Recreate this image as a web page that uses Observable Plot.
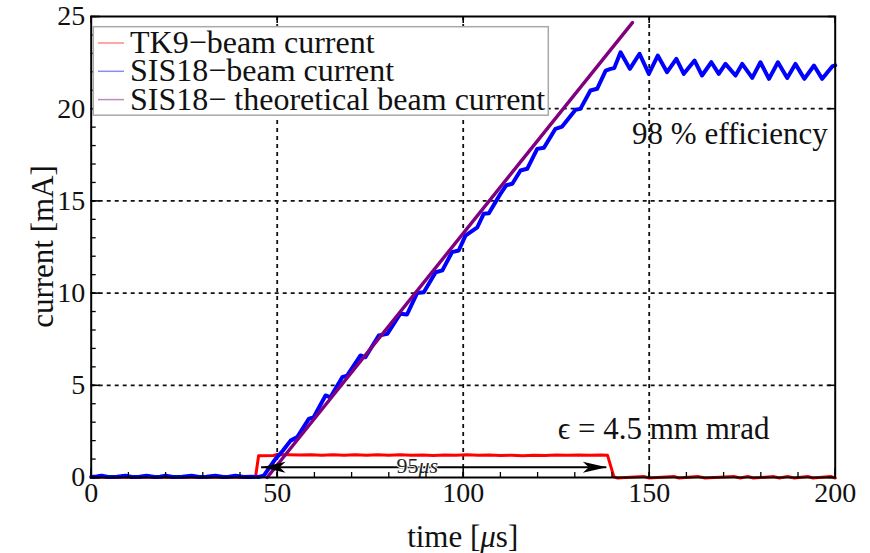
<!DOCTYPE html>
<html><head><meta charset="utf-8">
<script src="https://cdn.jsdelivr.net/npm/d3@7"></script>
<script src="https://cdn.jsdelivr.net/npm/@observablehq/plot@0.6"></script>
<style>body{margin:0;background:#fff}#chart{width:870px;height:553px}</style>
</head><body><div id="chart"></div>
<script>
// ---------- data ----------
const tk9Time = [0,10,20,30,40,44.2,45.0,49,50,53,56,59,62,65,68,71,74,77,80,83,86,89,92,95,98,101,104,107,110,113,116,119,122,125,128,131,134,137,138.8,140.5,141.5,148.5,150,156.6,158,163,165,172.7,174.5,176.5,178,183.5,185,187.2,189,192.6,194,198.8,200];
const tk9Current = [0.02,0.02,0.02,0.02,0.02,0.05,1.18,1.19,1.25,1.24,1.22,1.24,1.21,1.23,1.2,1.23,1.21,1.24,1.21,1.23,1.2,1.22,1.19,1.22,1.2,1.23,1.2,1.22,1.19,1.21,1.18,1.21,1.19,1.22,1.2,1.22,1.21,1.22,1.2,0.05,-0.03,0.06,-0.03,0.06,-0.03,0.06,-0.03,0.06,-0.03,0.06,-0.03,0.05,-0.03,0.06,-0.03,0.06,-0.03,0.06,-0.03];

const sisTime = [0,1.5,2.8,4.5,7,9.2,11,13,14.9,17,18.5,20,22,24.5,27,29,31,33.4,35.5,37,38.8,41,43,45,46.4,49.5,51.5,53.6,55.4,58.5,59.8,63.0,64.3,67.5,68.8,72.4,73.7,77.3,79.6,83.1,84.9,87.6,89.4,92.6,94.4,97.0,98.8,100.6,103.8,105.5,106.9,110.0,111.6,113.2,115.4,117.2,119.9,121.7,124.8,126.6,130.2,131.5,134.2,136.0,138.3,139.6,140.6,142.3,144.8,147.4,149.9,152.3,154.8,157.3,159.3,162.2,164.2,166.7,168.7,170.5,173.2,175.0,177.7,179.9,182.2,184.6,187.1,189.3,191.7,194.3,196.5,199.2,200];
const sisCurrent = [0.03,0.05,0.1,0.03,0.04,0.1,0.03,0.04,0.09,0.03,0.04,0.09,0.03,0.04,0.1,0.03,0.04,0.1,0.03,0.04,0.09,0.03,0.04,0.03,0.1,1.0,1.45,2.0,2.19,3.18,3.27,4.45,4.35,5.44,5.53,6.62,6.52,7.7,7.79,8.88,8.84,10.0,10.05,11.13,11.23,12.22,12.31,13.12,13.57,14.3,14.33,15.38,15.85,15.93,16.65,16.74,17.82,17.88,18.91,19.03,19.94,19.99,20.99,21.08,22.07,22.16,22.2,23.06,22.16,22.98,21.89,22.88,21.98,22.7,21.89,22.61,21.8,22.52,21.89,22.43,21.8,22.43,21.67,22.52,21.62,22.52,21.67,22.43,21.62,22.34,21.62,22.29,22.35];

const theoTime = [47.3,145.5];
const theoCurrent = [0,24.67];

const seriesNames = ["TK9\u2212beam current","SIS18\u2212beam current","SIS18\u2212 theoretical beam current"];
const seriesColors = ["#ff0000","#0000ff","#800080"];
const legendColors = ["#ff8a8a","#8a8aff","#c08ac0"];

const xTicks = [0,50,100,150,200];
const yTicks = [0,5,10,15,20,25];
const xGrid = [50,100,150];
const yGrid = [5,10,15,20];
const xMinor = d3.range(0,201,10);
const yMinor = d3.range(0,26,1);

const pulseSpan = [45.8,138.6];   // 95 µs pulse arrow
const pulseLevel = 0.55;

// ---------- build ----------
const rows = (ts, vs) => ts.map((t,i)=>({t, v: vs[i]}));
const tk9 = rows(tk9Time, tk9Current);
const sis = rows(sisTime, sisCurrent);
const theo = rows(theoTime, theoCurrent);

const W=870, H=553, mL=90.7, mR=35.3, mT=16, mB=76;
const innerW = W-mL-mR, innerH = H-mT-mB;
const font = "'Liberation Serif','Times New Roman',serif";

const leftHead = {draw(c){c.moveTo(0,0);c.lineTo(24,-5.5);c.lineTo(18,0);c.lineTo(24,5.5);c.closePath();}};
const rightHead = {draw(c){c.moveTo(0,0);c.lineTo(-24,-5.5);c.lineTo(-18,0);c.lineTo(-24,5.5);c.closePath();}};

const grid = {stroke:"#111", strokeWidth:1.8, strokeDasharray:"4,4"};
const mid = (pulseSpan[0]+pulseSpan[1])/2 - 4.2;

const plot = Plot.plot({
  width: W, height: H,
  marginLeft: mL, marginRight: mR, marginTop: mT, marginBottom: mB,
  x: {domain:[0,200]},
  y: {domain:[0,25]},
  style: {fontFamily: font, background:"white", color:"black", overflow:"visible"},
  marks: [
    Plot.ruleX(xGrid, grid),
    Plot.ruleY(yGrid, grid),
    Plot.line(tk9, {x:"t", y:"v", stroke: seriesColors[0], strokeWidth:3}),
    Plot.line(sis, {x:"t", y:"v", stroke: seriesColors[1], strokeWidth:4, strokeLinejoin:"round"}),
    Plot.line(theo, {x:"t", y:"v", stroke: seriesColors[2], strokeWidth:3.4}),
    Plot.ruleY([pulseLevel], {x1: pulseSpan[0], x2: pulseSpan[1], stroke:"black", strokeWidth:2}),
    Plot.dot([{t:pulseSpan[0], v:pulseLevel}], {x:"t", y:"v", symbol:leftHead, fill:"black", stroke:null}),
    Plot.dot([{t:pulseSpan[1], v:pulseLevel}], {x:"t", y:"v", symbol:rightHead, fill:"black", stroke:null}),
    Plot.text([{t:mid, v:0.62}], {x:"t", y:"v", text:()=>"95", textAnchor:"end", fontSize:22, fill:"#222", stroke:"white", strokeWidth:2, paintOrder:"stroke"}),
    Plot.text([{t:mid, v:0.62}], {x:"t", y:"v", text:()=>"\u03bcs", textAnchor:"start", fontStyle:"italic", fontSize:22, fill:"#222", stroke:"white", strokeWidth:2, paintOrder:"stroke"}),
    Plot.text([{t:145.4, v:18.65}], {x:"t", y:"v", text:()=>"98 % efficiency", textAnchor:"start", fontSize:31, fill:"#111"}),
    Plot.text([{t:125.4, v:2.6}], {x:"t", y:"v", text:()=>"\u03f5 = 4.5 mm mrad", textAnchor:"start", fontSize:31, fill:"#111"}),
    // inward ticks
    Plot.ruleX(xMinor, {stroke:"black", strokeWidth:1.3, insetTop: innerH-5}),
    Plot.ruleX(xTicks, {stroke:"black", strokeWidth:1.6, insetTop: innerH-9}),
    Plot.ruleX(xTicks, {stroke:"black", strokeWidth:1.6, insetBottom: innerH-7}),
    Plot.ruleY(yMinor, {stroke:"black", strokeWidth:1.3, insetRight: innerW-5}),
    Plot.ruleY(yTicks, {stroke:"black", strokeWidth:1.6, insetRight: innerW-9}),
    Plot.ruleY(yTicks, {stroke:"black", strokeWidth:1.6, insetLeft: innerW-7}),
    Plot.frame({stroke:"black", strokeWidth:2}),
    Plot.axisX(xTicks, {tickSize:0, tickPadding:5, fontSize:28, label:null, fill:"#111"}),
    Plot.axisY(yTicks, {tickSize:0, tickPadding:6, fontSize:28, label:null, fill:"#111"})
  ]
});

const svg = d3.select(plot);
// axis titles
const xt = svg.append("text").attr("x", mL + innerW/2).attr("y", 547).attr("text-anchor","middle")
  .attr("font-family", font).attr("font-size", 31).attr("fill","#111");
xt.append("tspan").text("time [");
xt.append("tspan").attr("font-style","italic").text("\u03bc");
xt.append("tspan").text("s]");
svg.append("text").attr("transform", `translate(53,${mT+innerH/2}) rotate(-90)`).attr("text-anchor","middle")
  .attr("font-family", font).attr("font-size", 31).attr("fill","#111").text("current [mA]");

// legend
const lg = svg.append("g").attr("text-anchor","start");
lg.append("rect").attr("x",93.3).attr("y",26.7).attr("width",455).attr("height",88.5)
  .attr("fill","white").attr("stroke","#a8a8a8").attr("stroke-width",1.5);
seriesNames.forEach((name,i)=>{
  const by = 53 + i*28.3;
  lg.append("line").attr("x1",98).attr("x2",124).attr("y1",by-10).attr("y2",by-10)
    .attr("stroke", legendColors[i]).attr("stroke-width",1.5);
  lg.append("text").attr("x",130).attr("y",by).attr("text-anchor","start").attr("font-family",font).attr("font-size",32)
    .attr("fill","#111").text(name);
});

document.getElementById("chart").append(plot);
</script>
</body></html>
